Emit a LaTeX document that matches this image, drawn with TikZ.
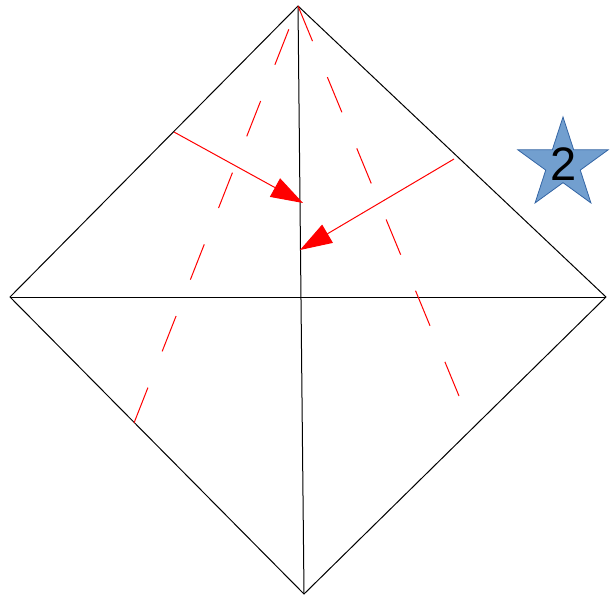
\documentclass[tikz,border=0pt]{standalone}
\usepackage{fontspec}
\setmainfont{Liberation Sans}
\usetikzlibrary{arrows.meta,shapes.geometric}
\definecolor{starfill}{HTML}{729FCF}
\definecolor{starline}{HTML}{3465A4}
\tikzset{
  edge/.style={draw=black, line width=1pt},
  fold/.style={draw=red, line width=1pt, dash pattern=on 38pt off 39pt},
  push/.style={draw=red, line width=1pt, -{Triangle[length=32pt,width=21pt]}, red},
  starbox/.style={star, star points=5, star point ratio=2.618, minimum size=95pt, inner sep=0pt, fill=starfill, draw=starline, line width=0.8pt}
}
\begin{document}
\begin{tikzpicture}[x=1pt,y=-1pt]
\useasboundingbox (0,0) rectangle (616,600);
\coordinate (T) at (298,6);
\coordinate (L) at (10,297);
\coordinate (R) at (606,297);
\coordinate (B) at (304,594);
\coordinate (F1) at (134,423);
\coordinate (F2) at (459,396);
\coordinate (A1s) at (174,132);
\coordinate (A1e) at (303,203);
\coordinate (A2s) at (454,159);
\coordinate (A2e) at (300,250);
\draw[edge] (T) -- (R) -- (B) -- (L) -- cycle;
\draw[edge] (T) -- (B);
\draw[edge] (L) -- (R);
\draw[fold] (F1) -- (T);
\draw[fold] (T) -- (F2);
\draw[push] (A1s) -- (A1e);
\draw[push] (A2s) -- (A2e);
\node[starbox] (star) at (563,164.5) {};
\node[font=\fontsize{47}{47}\selectfont, inner sep=0pt] (two) at (564,164) {2};
\end{tikzpicture}
\end{document}
